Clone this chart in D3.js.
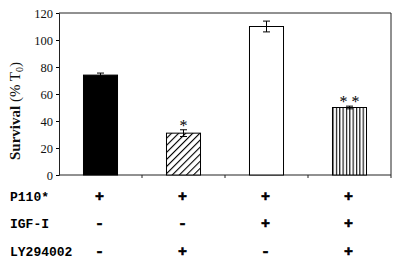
<!DOCTYPE html>
<html><head><meta charset="utf-8">
<script src="https://cdn.jsdelivr.net/npm/d3@7"></script>
<style>body{margin:0;background:#fff}svg{display:block}</style>
</head><body>
<svg id="c" width="400" height="272"></svg>
<script>
const categories = ["A","B","C","D"];
const values = [74, 31, 110, 50];
const errors = [1.5, 2.5, 4, 1];
const fills = ["black","hatch-diag","white","hatch-vert"];
const marks = ["", "*", "", "* *"];
const yTicks = [0,20,40,60,80,100,120];
const rowLabels = ["P110*","IGF-I","LY294002"];
const rowSigns = [["+","+","+","+"],["-","-","+","+"],["-","+","-","+"]];

const svg = d3.select("#c");
const L=59, R=391, T=13, B=175;
const x = d3.scaleBand().domain(categories).range([L,R]).paddingInner(0.59).paddingOuter(0.295);
const y = d3.scaleLinear().domain([0,120]).range([B,T]);

const defs = svg.append("defs");
const pd = defs.append("pattern").attr("id","hatch-diag").attr("patternUnits","userSpaceOnUse")
  .attr("width",5).attr("height",5).attr("patternTransform","rotate(45)");
pd.append("rect").attr("width",5).attr("height",5).attr("fill","white");
pd.append("line").attr("x1",0).attr("y1",0).attr("x2",0).attr("y2",5).attr("stroke","black").attr("stroke-width",2.2);
const pv = defs.append("pattern").attr("id","hatch-vert").attr("patternUnits","userSpaceOnUse")
  .attr("width",3.35).attr("height",10).attr("x",x("D"));
pv.append("rect").attr("width",3.35).attr("height",10).attr("fill","white");
pv.append("line").attr("x1",0.6).attr("y1",0).attr("x2",0.6).attr("y2",10).attr("stroke","black").attr("stroke-width",1.1);

// frame top/right
svg.append("line").attr("x1",L).attr("x2",R).attr("y1",T).attr("y2",T).attr("stroke","#222").attr("stroke-width",1);
svg.append("line").attr("x1",R).attr("x2",R).attr("y1",T).attr("y2",B).attr("stroke","#222").attr("stroke-width",1);

// y axis
const ya = svg.append("g").attr("transform",`translate(${L},0)`)
  .call(d3.axisLeft(y).tickValues(yTicks).tickSize(3).tickPadding(3));
ya.selectAll("text").attr("font-family","'Liberation Serif','Times New Roman',serif").attr("font-size",12.5).attr("fill","#111");
ya.select(".domain").attr("stroke","#222");

// x axis with between-category ticks
const xa = svg.append("g").attr("transform",`translate(0,${B})`);
xa.append("line").attr("x1",L).attr("x2",R).attr("stroke","#222");
const bounds = categories.map(c => x(c) + x.bandwidth()/2 + x.step()/2);
xa.selectAll("line.t").data(bounds).join("line").attr("class","t")
  .attr("x1",d=>d).attr("x2",d=>d).attr("y1",0).attr("y2",3).attr("stroke","#222");

// bars
svg.append("g").selectAll("rect").data(categories).join("rect")
  .attr("x",d=>x(d)).attr("width",x.bandwidth())
  .attr("y",(d,i)=>y(values[i])).attr("height",(d,i)=>B-y(values[i]))
  .attr("fill",(d,i)=>fills[i].startsWith("hatch")?`url(#${fills[i]})`:fills[i])
  .attr("stroke","black").attr("stroke-width",1);

// error bars
const eg = svg.append("g").attr("stroke","black").attr("stroke-width",1);
categories.forEach((c,i)=>{
  const cx = x(c)+x.bandwidth()/2;
  eg.append("line").attr("x1",cx).attr("x2",cx).attr("y1",y(values[i]+errors[i])).attr("y2",y(values[i]-errors[i]));
  [values[i]+errors[i], values[i]-errors[i]].forEach(v=>{
    eg.append("line").attr("x1",cx-3.5).attr("x2",cx+3.5).attr("y1",y(v)).attr("y2",y(v));
  });
});

// significance marks
svg.append("g").selectAll("text").data(categories).join("text")
  .attr("x",d=>x(d)+x.bandwidth()/2).attr("y",(d,i)=>y(values[i]+errors[i])+1)
  .attr("text-anchor","middle").attr("font-family","'Liberation Serif',serif").attr("font-size",16)
  .text((d,i)=>marks[i]);

// y label
svg.append("text").attr("transform","translate(20,111) rotate(-90)").attr("text-anchor","middle")
  .attr("font-family","'Liberation Serif','Times New Roman',serif").attr("font-size",15).attr("fill","#111")
  .call(t=>{
    t.append("tspan").attr("font-weight","bold").text("Survival ");
    t.append("tspan").text("(% T");
    t.append("tspan").attr("font-size",10).attr("dy",3).text("0");
    t.append("tspan").attr("dy",-3).text(")");
  });

// table
const rowY = [201, 228, 256];
const tb = svg.append("g").attr("font-family","'Liberation Mono','Courier New',monospace").attr("font-weight","bold").attr("fill","#000");
rowLabels.forEach((lab,r)=>{
  tb.append("text").attr("x",10).attr("y",rowY[r]).attr("font-size",13).text(lab);
  tb.selectAll(null).data(categories).join("text")
    .attr("x",d=>x(d)+x.bandwidth()/2 - 1).attr("y",rowY[r]).attr("text-anchor","middle").attr("font-size",15)
    .attr("stroke","#000").attr("stroke-width",0.6)
    .text((d,i)=>rowSigns[r][i]);
});
</script>
</body></html>
